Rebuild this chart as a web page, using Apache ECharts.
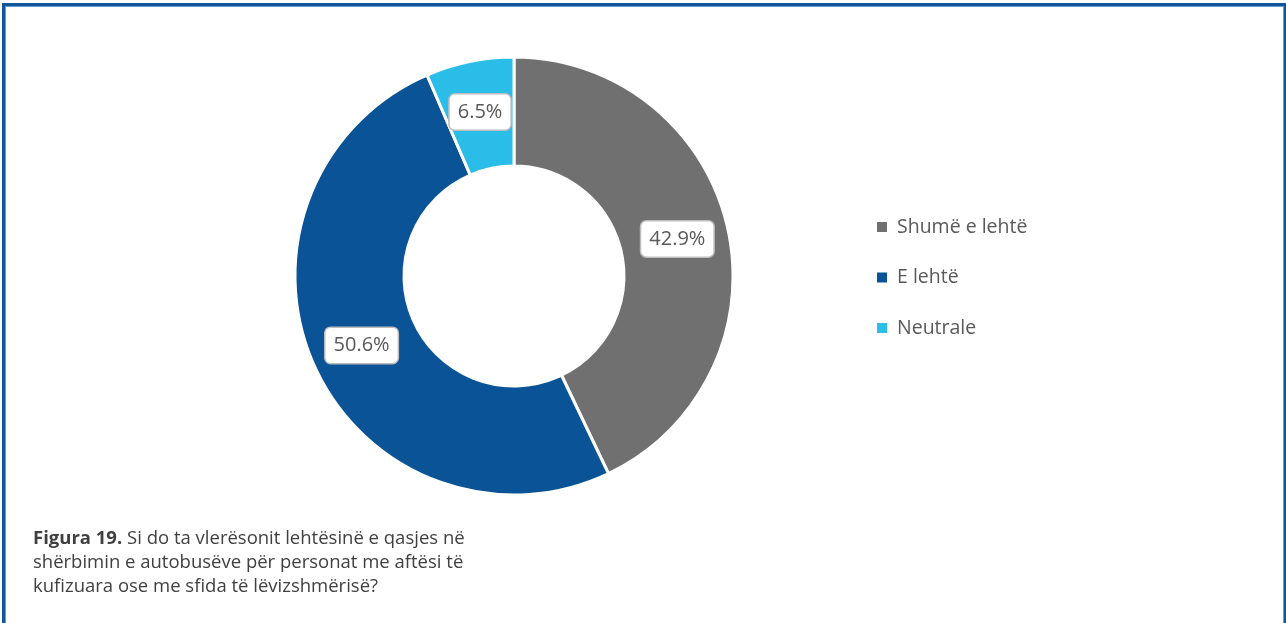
<!DOCTYPE html>
<html>
<head>
<meta charset="utf-8">
<script src="https://cdn.jsdelivr.net/npm/echarts@6/dist/echarts.min.js"></script>
<style>
  html, body { margin: 0; padding: 0; background: #fff; }
  #frame {
    position: absolute; left: 2px; top: 3px; width: 1279px; height: 640px;
    border: 3px solid #0f5799; box-shadow: inset 0 0 0 1px #6a9bd0;
  }
  #chart { position: absolute; left: 0; top: 0; width: 1286px; height: 623px; }
</style>
</head>
<body>
<div id="frame"></div>
<div id="chart"></div>
<script>
// Survey answers: ease of bus access for people with disabilities
const categories = ['Shumë e lehtë', 'E lehtë', 'Neutrale'];
const shares = [42.9, 50.6, 6.5];
const colors = ['#707070', '#0a5396', '#29bde8'];

const captionBold = 'Figura 19.';
const captionLines = [
  ' Si do ta vlerësonit lehtësinë e qasjes në',
  'shërbimin e autobusëve për personat me aftësi të',
  'kufizuara ose me sfida të lëvizshmërisë?'
];

const chart = echarts.init(document.getElementById('chart'), null, { renderer: 'canvas' });

const font = '"Open Sans", "Noto Sans", sans-serif';

chart.setOption({
  animation: false,
  textStyle: { fontFamily: font },
  title: {
    left: 33,
    padding: 0,
    top: 527,
    text: '{b|' + captionBold + '}{t|' + captionLines[0] + '}\n{t|' + captionLines[1] + '}\n{t|' + captionLines[2] + '}',
    textStyle: {
      fontWeight: 'normal',
      rich: {
        b: { fontFamily: font, fontSize: 18.5, fontWeight: 'bold', color: '#404040', lineHeight: 24 },
        t: { fontFamily: font, fontSize: 18.5, fontWeight: 'normal', color: '#404040', lineHeight: 24 }
      }
    }
  },
  legend: {
    orient: 'vertical',
    left: 875,
    top: 217,
    padding: 0,
    itemWidth: 12,
    itemHeight: 12,
    itemGap: 30.5,
    icon: 'rect',
    textStyle: { fontFamily: font, fontSize: 19.5, color: '#595959', padding: [0, 0, 0, 4] },
    data: categories
  },
  series: [{
    type: 'pie',
    center: [514, 276],
    radius: [110, 219],
    startAngle: 90,
    clockwise: true,
    itemStyle: { borderColor: '#fff', borderWidth: 3 },
    label: {
      show: true,
      position: 'inside',
      formatter: p => p.value.toFixed(1) + '%',
      fontFamily: font,
      fontSize: 20,
      color: '#595959',
      backgroundColor: '#fff',
      borderColor: '#bdbdbd',
      borderWidth: 1.5,
      borderRadius: 5,
      padding: [8, 8, 7, 8]
    },
    labelLine: { show: false },
    emphasis: { disabled: true },
    data: categories.map((name, i) => ({
      name,
      value: shares[i],
      itemStyle: { color: colors[i] }
    }))
  }]
});
</script>
</body>
</html>
